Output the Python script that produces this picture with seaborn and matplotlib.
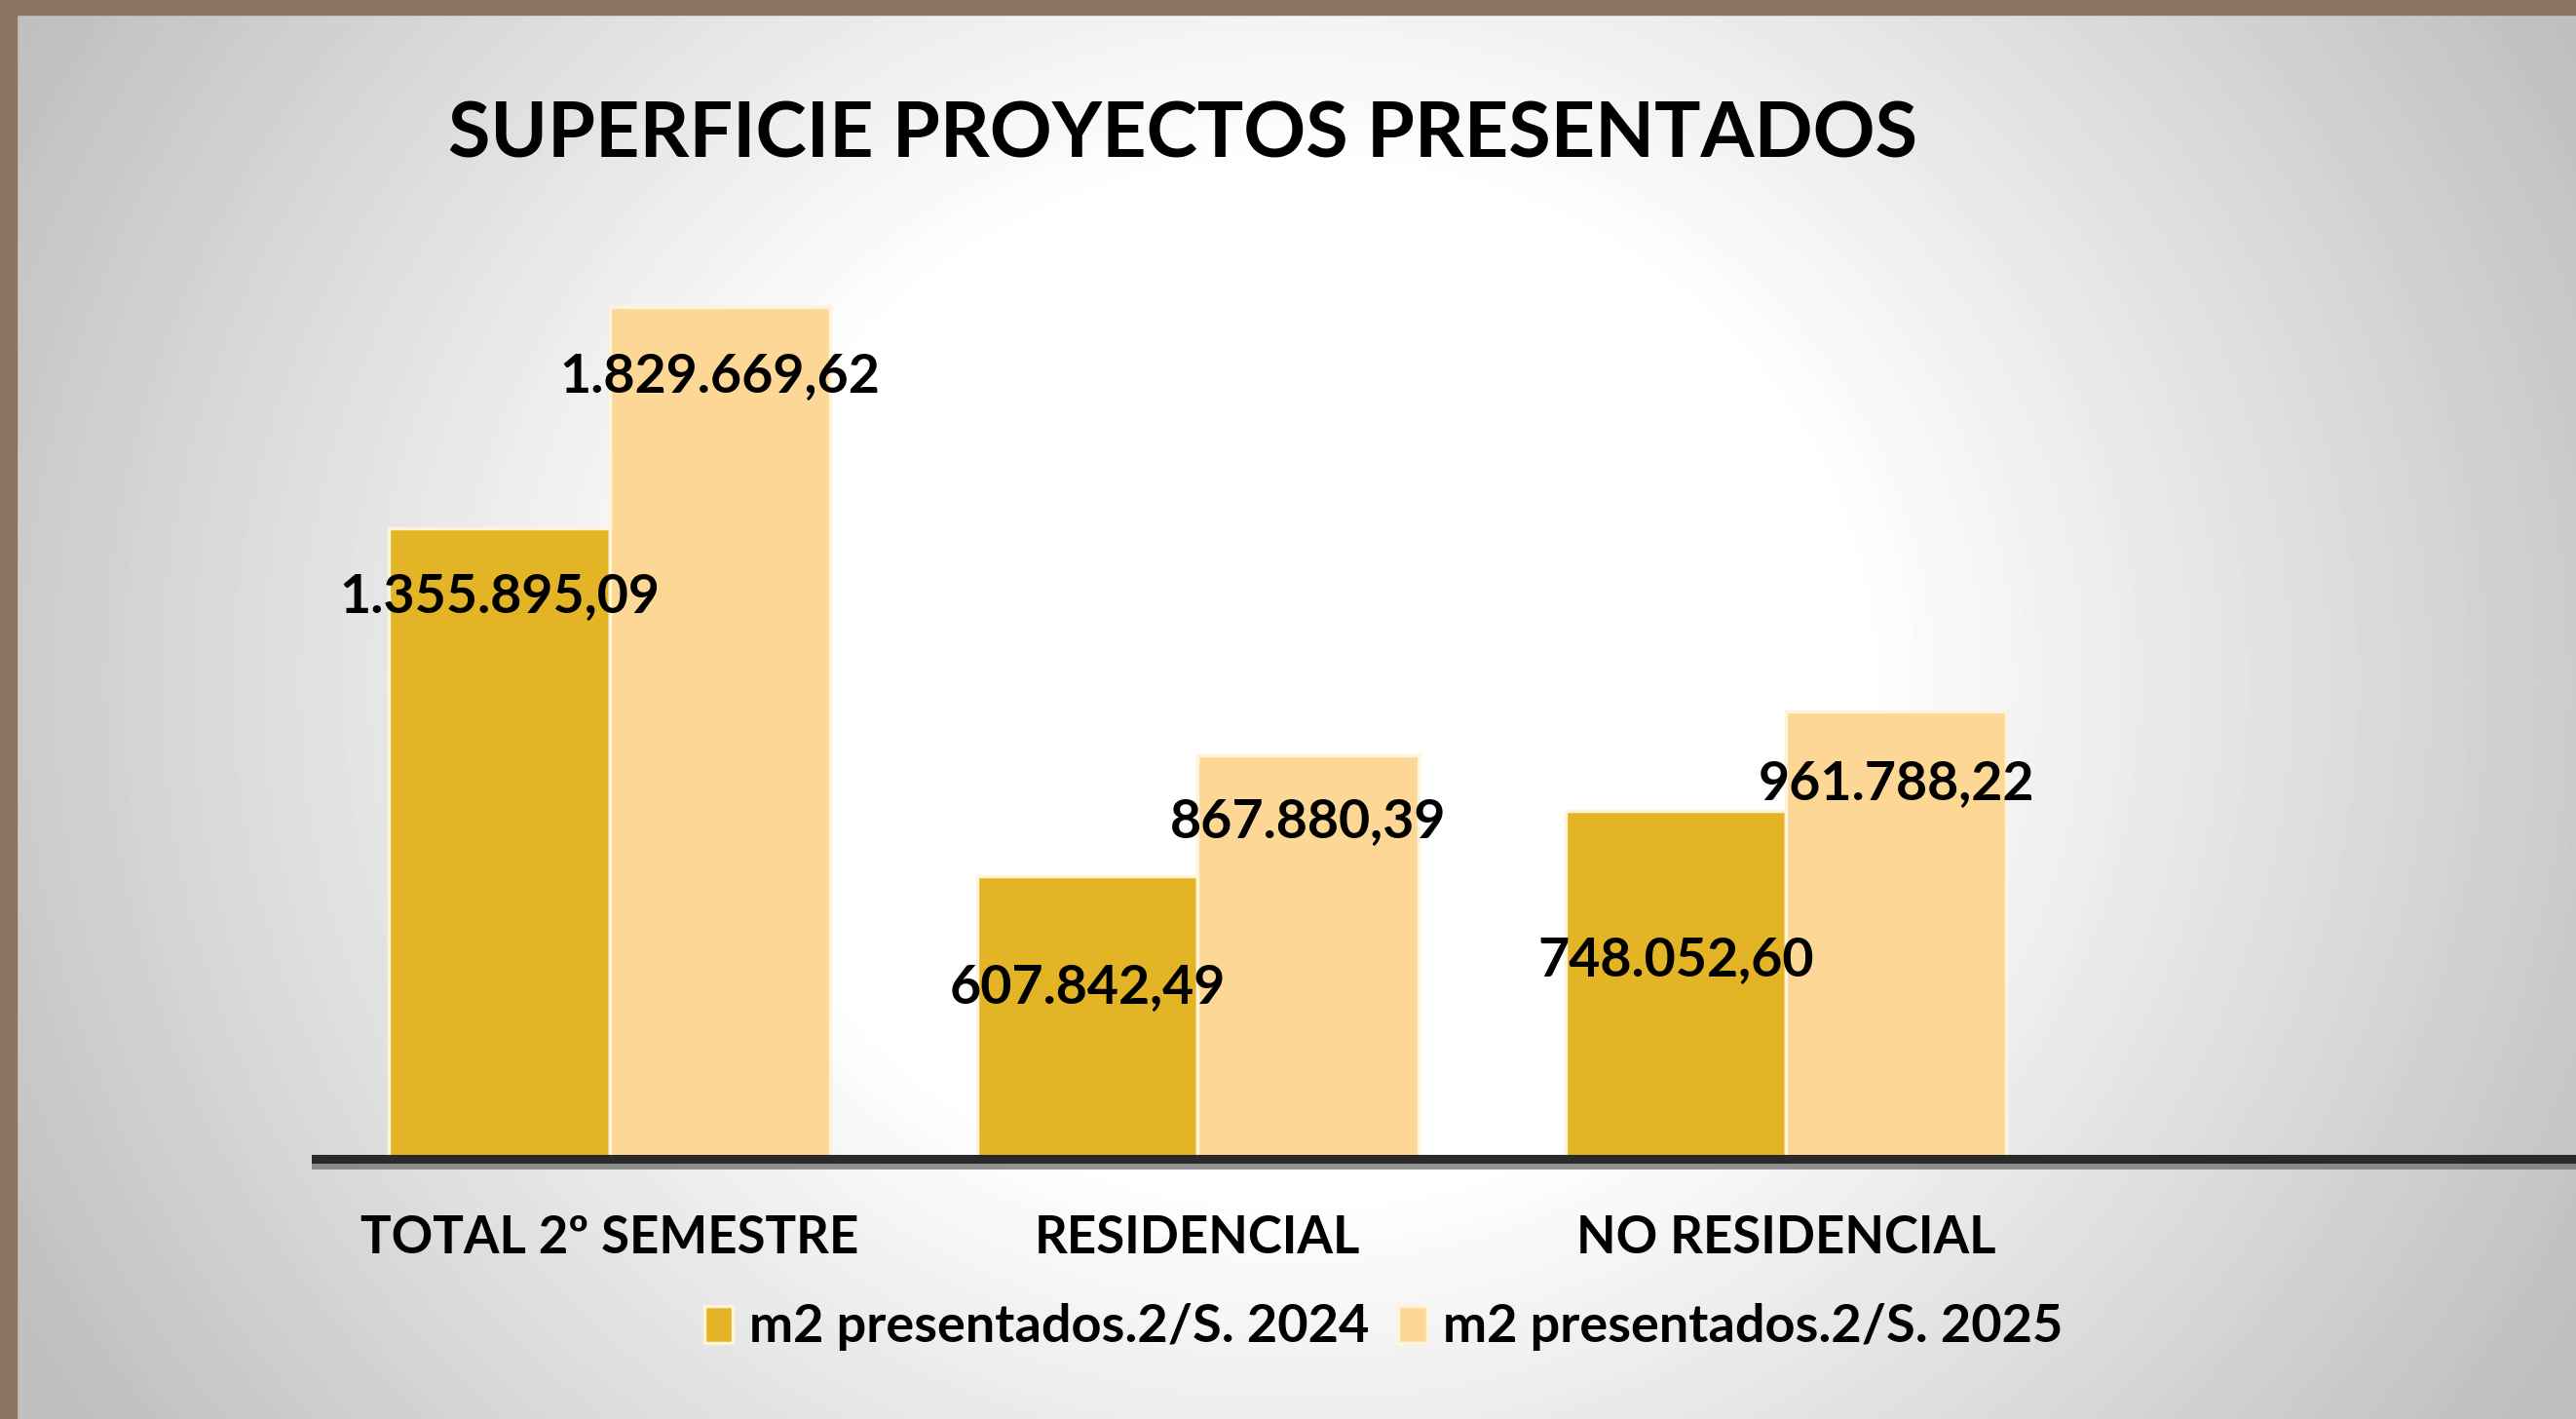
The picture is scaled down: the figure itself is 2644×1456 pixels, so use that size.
import numpy as np
import pandas as pd
import matplotlib
matplotlib.use('Agg')
import matplotlib.pyplot as plt
import matplotlib.patheffects as pe
from matplotlib.patches import Rectangle
import seaborn as sns

# Data
categories = ['TOTAL 2º SEMESTRE', 'RESIDENCIAL', 'NO RESIDENCIAL']
series_names = ['m2 presentados.2/S. 2024', 'm2 presentados.2/S. 2025']
values_2024 = [1355895.09, 607842.49, 748052.60]
values_2025 = [1829669.62, 867880.39, 961788.22]
colors = ['#E2B426', '#FDD795']

# per-label vertical offset below the bar top (pixels)
label_drop_2024 = [70, 114, 153]
label_drop_2025 = [71, 68, 74]

W, H = 2644, 1456
DPI = 100


def es_format(v):
    s = f"{v:,.2f}"
    return s.replace(',', '#').replace('.', ',').replace('#', '.')


df = pd.DataFrame({
    'categoria': categories * 2,
    'serie': [series_names[0]] * 3 + [series_names[1]] * 3,
    'valor': values_2024 + values_2025,
})

sns.set_style('white')
plt.rcParams['font.family'] = ['Lato', 'DejaVu Sans']
plt.rcParams['text.color'] = 'black'
plt.rcParams['xtick.color'] = 'black'

fig = plt.figure(figsize=(W / DPI, H / DPI), dpi=DPI)

# radial grey-to-white background
bg = fig.add_axes([0, 0, 1, 1], zorder=-10)
yy, xx = np.mgrid[0:H, 0:W]
r = np.hypot(xx - 1330, (yy - 700) * 1.1)
shade = 1 - 0.22 * np.clip((r - 580) / 800, 0, 1.15)
bg.imshow(shade, cmap='gray', vmin=0, vmax=1, aspect='auto', interpolation='bilinear')
bg.axis('off')

# brown frame on top and left
fig.patches.append(Rectangle((0, 1 - 15 / H), 1, 15 / H, transform=fig.transFigure,
                             color='#8C7363', zorder=5))
fig.patches.append(Rectangle((0, 0), 17 / W, 1, transform=fig.transFigure,
                             color='#8C7363', zorder=5))

ax = fig.add_axes([324 / W, 267 / H, 2320 / W, 989 / H])
ax.set_facecolor('none')

sns.barplot(data=df, x='categoria', y='valor', hue='serie', order=categories,
            hue_order=series_names, palette=colors, width=0.75, gap=0,
            edgecolor='#FFF4DA', linewidth=2.5, saturation=1, ax=ax)

ax.set_xlim(-0.5, 3.344)
ax.set_ylim(0, 2.0716e6)
ax.set_xlabel('')
ax.set_ylabel('')
ax.set_yticks([])
ax.tick_params(axis='x', length=0, pad=41, labelsize=38, labelcolor='black')
for lab in ax.get_xticklabels():
    lab.set_fontweight('bold')

for s in ['top', 'left', 'right']:
    ax.spines[s].set_visible(False)
ax.spines['bottom'].set_color('#2A2A2A')
ax.spines['bottom'].set_linewidth(6.5)
ax.spines['bottom'].set_path_effects([
    pe.SimpleLineShadow(offset=(0, -4), shadow_color='#777777', alpha=0.8),
    pe.Normal()])

# value labels
for container, drops in zip(ax.containers, [label_drop_2024, label_drop_2025]):
    for bar, drop in zip(container, drops):
        h = bar.get_height()
        ax.annotate(es_format(h), (bar.get_x() + bar.get_width() / 2, h),
                    xytext=(0, -drop), textcoords='offset pixels',
                    ha='center', va='center', fontsize=40, fontweight='bold',
                    color='black', zorder=10)

# legend below the axis
handles, labels = ax.get_legend_handles_labels()
if ax.get_legend() is not None:
    ax.get_legend().remove()
leg = fig.legend(handles, labels, loc='center', bbox_to_anchor=(1420 / W, 1 - 1362 / H),
                 ncol=2, frameon=False, prop={'weight': 'bold', 'size': 39},
                 handlelength=0.55, handleheight=0.7, handletextpad=0.3,
                 columnspacing=0.55)
for t in leg.get_texts():
    t.set_color('black')

fig.text(460 / W, 1 - 162 / H, 'SUPERFICIE PROYECTOS PRESENTADOS',
         ha='left', va='baseline', fontsize=57, fontweight='bold', color='black')

fig.savefig('out.png', dpi=DPI)
